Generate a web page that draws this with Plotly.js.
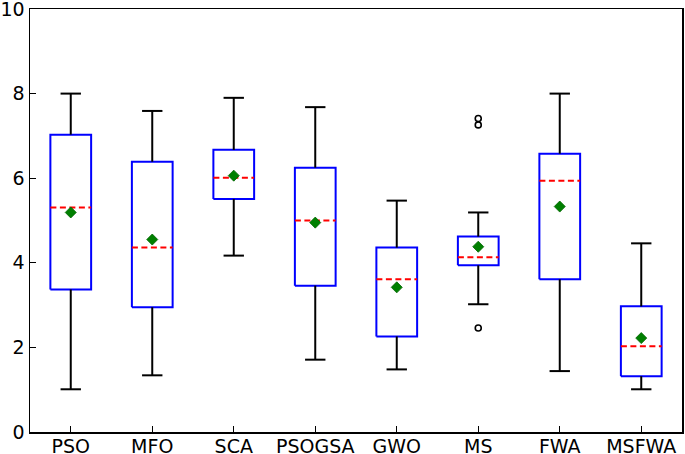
<!DOCTYPE html>
<html>
<head>
<meta charset="utf-8">
<script src="https://cdn.plot.ly/plotly-3.0.1.min.js"></script>
<style>html,body{margin:0;padding:0;background:#fff;}#chart{width:685px;height:454px;}</style>
</head>
<body>
<div id="chart"></div>
<script>
var categories = ["PSO", "MFO", "SCA", "PSOGSA", "GWO", "MS", "FWA", "MSFWA"];
var lowerWhisker = [1.01, 1.34, 4.17, 1.71, 1.48, 3.02, 1.44, 1.01];
var q1 = [3.37, 2.95, 5.51, 3.46, 2.26, 3.94, 3.61, 1.32];
var median = [5.31, 4.36, 6.01, 5.00, 3.61, 4.13, 5.94, 2.03];
var q3 = [7.03, 6.39, 6.67, 6.25, 4.36, 4.62, 6.58, 2.97];
var upperWhisker = [8.00, 7.59, 7.90, 7.68, 5.47, 5.19, 8.00, 4.46];
var means = [5.19, 4.55, 6.06, 4.95, 3.42, 4.38, 5.33, 2.22];
var outlierCategory = ["MS", "MS", "MS"];
var outlierValue = [7.41, 7.26, 2.46];
var yTicks = [0, 2, 4, 6, 8, 10];

var boxHalf = 0.25, capHalf = 0.125;
var pos = categories.map(function (c, i) { return i + 1; });

var wx = [], wy = [], bx = [], by = [], mx = [], my = [];
pos.forEach(function (p, i) {
  wx.push(p, p, null, p, p, null, p - capHalf, p + capHalf, null, p - capHalf, p + capHalf, null);
  wy.push(q3[i], upperWhisker[i], null, q1[i], lowerWhisker[i], null, upperWhisker[i], upperWhisker[i], null, lowerWhisker[i], lowerWhisker[i], null);
  bx.push(p - boxHalf, p + boxHalf, p + boxHalf, p - boxHalf, p - boxHalf, null);
  by.push(q1[i], q1[i], q3[i], q3[i], q1[i], null);
  mx.push(p - boxHalf, p + boxHalf, null);
  my.push(median[i], median[i], null);
});
var ox = outlierCategory.map(function (c) { return categories.indexOf(c) + 1; });

var traces = [
  {x: bx, y: by, mode: "lines", line: {color: "#0000ff", width: 2}, hoverinfo: "skip", cliponaxis: false},
  {x: wx, y: wy, mode: "lines", line: {color: "#000000", width: 2}, hoverinfo: "skip", cliponaxis: false},
  {x: mx, y: my, mode: "lines", line: {color: "#ff0000", width: 2, dash: "6px,3.5px"}, hoverinfo: "skip", cliponaxis: false},
  {x: ox, y: outlierValue, mode: "markers", marker: {symbol: "circle-open", size: 6, color: "#000000", line: {width: 1.6, color: "#000000"}}},
  {x: pos, y: means, mode: "markers", marker: {symbol: "diamond", size: 8.5, color: "#008000", line: {width: 0.8, color: "#006400"}}}
];

var layout = {
  width: 685, height: 454,
  margin: {l: 30, r: 3, t: 9, b: 22, autoexpand: false},
  paper_bgcolor: "#ffffff", plot_bgcolor: "#ffffff",
  showlegend: false,
  font: {family: "DejaVu Sans", size: 19, color: "#000000"},
  xaxis: {
    range: [0.5, 8.5], tickmode: "array", tickvals: pos, ticktext: categories,
    showgrid: false, zeroline: false, showline: true, mirror: true,
    linecolor: "#000000", linewidth: 1.5, automargin: false,
    ticks: "inside", ticklen: 6, tickwidth: 1.2, tickcolor: "#000000",
    ticklabelstandoff: -3, ticklabeloverflow: "allow"
  },
  yaxis: {
    range: [0, 10], tickmode: "array", tickvals: yTicks,
    showgrid: false, zeroline: false, showline: true, mirror: true,
    linecolor: "#000000", linewidth: 1.5, automargin: false,
    ticks: "inside", ticklen: 6, tickwidth: 1.2, tickcolor: "#000000",
    ticklabeloverflow: "allow"
  }
};

Plotly.newPlot("chart", traces, layout, {displayModeBar: false, staticPlot: true});
</script>
</body>
</html>
